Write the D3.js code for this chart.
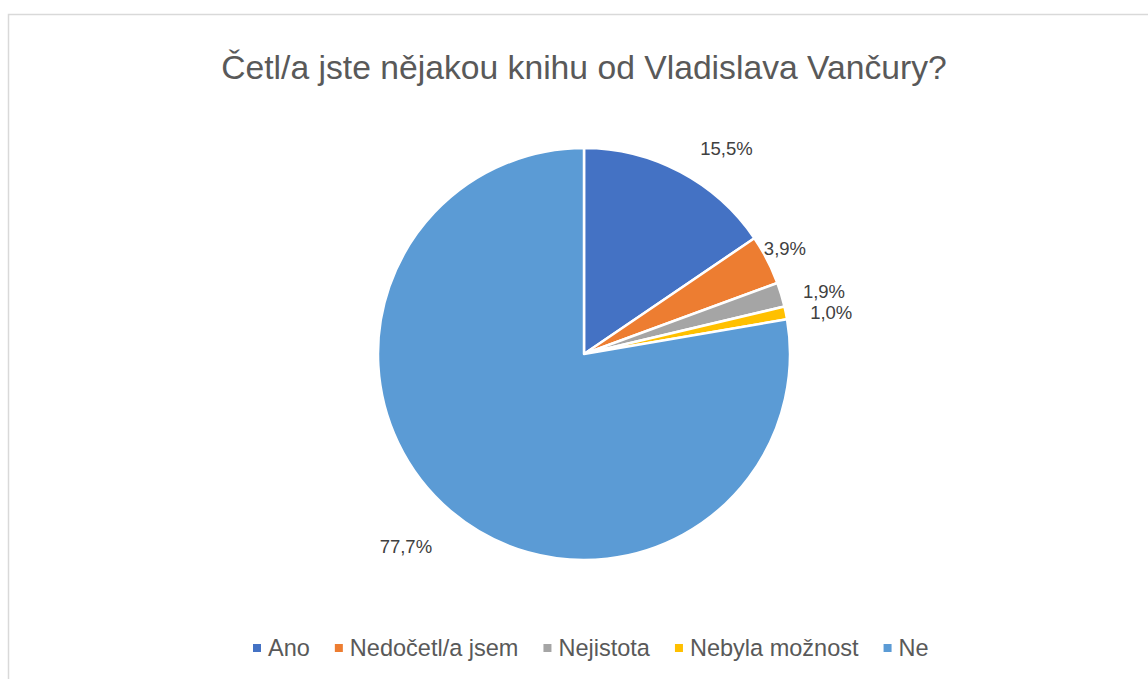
<!DOCTYPE html>
<html><head><meta charset="utf-8">
<script src="https://cdn.jsdelivr.net/npm/d3@7"></script>
<style>body{margin:0;background:#fff}svg{display:block}</style>
</head><body>
<script>
const title = "Četl/a jste nějakou knihu od Vladislava Vančury?";
const categories = ["Ano", "Nedočetl/a jsem", "Nejistota", "Nebyla možnost", "Ne"];
const values = [15.5, 3.9, 1.9, 1.0, 77.7];
const labels = ["15,5%", "3,9%", "1,9%", "1,0%", "77,7%"];
const colors = ["#4472C4", "#ED7D31", "#A5A5A5", "#FFC000", "#5B9BD5"];
// label nudges (layout only)
const labelNudge = [[32, 3], [-9, 2], [14, 5], [16, 6], [-26, 12]];

const W = 1148, H = 679;
const FONT = "'Liberation Sans', Arial, sans-serif";
const svg = d3.select("body").append("svg").attr("width", W).attr("height", H);
svg.append("rect").attr("x", 8.5).attr("y", 14.5).attr("width", W).attr("height", H)
  .attr("fill", "#fff").attr("stroke", "#d9d9d9").attr("stroke-width", 1.5);

// title fit to width
const t = svg.append("text").text(title).attr("x", 584).attr("y", 67).attr("dy", "0.35em")
  .attr("text-anchor", "middle").attr("fill", "#595959").style("font-family", FONT).style("font-size", "28px");
const tw = t.node().getComputedTextLength();
t.style("font-size", (28 * 726 / tw) + "px");

const cx = 584, cy = 354, r = 206;
const pie = d3.pie().sort(null).value(d => d)(values);
const arc = d3.arc().innerRadius(0).outerRadius(r);
const g = svg.append("g").attr("transform", `translate(${cx},${cy})`);
g.selectAll("path").data(pie).join("path").attr("d", arc)
  .attr("fill", (d, i) => colors[i]).attr("stroke", "#fff").attr("stroke-width", 2.5).attr("stroke-linejoin", "round");

const lArc = d3.arc().innerRadius(r + 30).outerRadius(r + 30);
g.selectAll("text.lbl").data(pie).join("text").attr("class", "lbl")
  .attr("x", (d, i) => lArc.centroid(d)[0] + labelNudge[i][0])
  .attr("y", (d, i) => lArc.centroid(d)[1] + labelNudge[i][1])
  .attr("dy", "0.35em").attr("text-anchor", "middle")
  .attr("fill", "#404040").style("font-family", FONT).style("font-size", "18.5px")
  .text((d, i) => labels[i]);

// legend
const leg = svg.append("g");
let fs = 18;
function layout(fs) {
  leg.selectAll("*").remove();
  let x = 0;
  categories.forEach((c, i) => {
    const tt = leg.append("text").text(c).attr("x", x + 15).attr("y", 648).attr("dy", "0.35em")
      .attr("fill", "#595959").style("font-family", FONT).style("font-size", fs + "px");
    leg.append("rect").attr("x", x).attr("y", 644).attr("width", 8).attr("height", 8).attr("fill", colors[i]);
    const w = tt.node().getComputedTextLength();
    x += 15 + w + (i < categories.length - 1 ? 25 : 0);
  });
  return x;
}
let total = layout(fs);
fs = fs * (676 - 4 * 25 - 5 * 15) / (total - 4 * 25 - 5 * 15);
total = layout(fs);
leg.attr("transform", `translate(${253},0)`);
</script>
</body></html>
